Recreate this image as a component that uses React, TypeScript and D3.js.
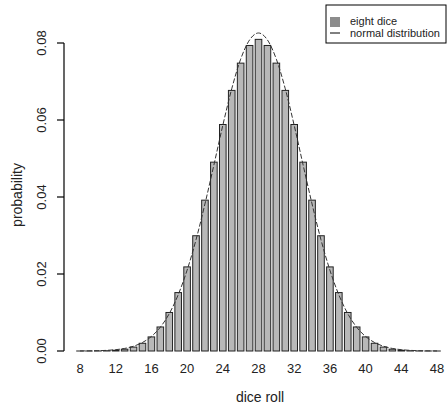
import React, { useMemo } from 'react';
import * as d3 from 'd3';

// dice sums 8..48
const rolls: number[] = d3.range(8, 49);

// probability of each sum (left half up to the peak at 28, mirrored)
const probLeft: number[] = [
  0.0000006, 0.0000048, 0.0000214, 0.0000714, 0.000196, 0.000472, 0.001017,
  0.002005, 0.00366, 0.00624, 0.010007, 0.015175, 0.021843, 0.02994,
  0.03918, 0.04905, 0.058831, 0.067687, 0.074772, 0.079356, 0.080943,
];
const probs: number[] = [...probLeft, ...probLeft.slice(0, -1).reverse()];

// normal curve heights at each sum (same symmetry)
const normLeft: number[] = [
  0.0000156, 0.0000361, 0.0000797, 0.000169, 0.000343, 0.000666, 0.00124,
  0.00221, 0.00377, 0.00618, 0.00969, 0.0146, 0.021, 0.0289, 0.0382,
  0.0483, 0.0586, 0.0681, 0.0758, 0.0808, 0.0826,
];
const normal: number[] = [...normLeft, ...normLeft.slice(0, -1).reverse()];

const xTicks: number[] = [8, 12, 16, 20, 24, 28, 32, 36, 40, 44, 48];
const yTicks: number[] = [0, 0.02, 0.04, 0.06, 0.08];

const W = 448;
const H = 410;
const font = "'Liberation Sans', Arial, sans-serif";

const App = () => {
  const { x, y, curvePath } = useMemo(() => {
    const x = d3.scaleLinear().domain([8, 48]).range([80, 437]);
    const y = d3.scaleLinear().domain([0, 0.08]).range([351, 43]);
    const line = d3.line<number>()
      .x((_, i) => x(rolls[i]))
      .y(d => y(d))
      .curve(d3.curveMonotoneX);
    return { x, y, curvePath: line(normal) };
  }, []);

  const barW = 6.6;

  return (
    <svg width={W} height={H} style={{ position: 'absolute', left: 0, top: 0, background: '#fff', fontFamily: font }}>
      {/* bars */}
      {rolls.map((r, i) => (
        <rect
          key={r}
          x={x(r) - barW / 2}
          y={y(probs[i])}
          width={barW}
          height={y(0) - y(probs[i])}
          fill="#b8b8b8"
          stroke="#222"
          strokeWidth={1}
        />
      ))}

      {/* normal curve */}
      <path d={curvePath ?? ''} fill="none" stroke="#333" strokeWidth={1} strokeDasharray="5,2" />

      {/* y axis */}
      <line x1={64} x2={64} y1={y(0)} y2={y(0.08)} stroke="#000" strokeWidth={1.2} />
      {yTicks.map(t => (
        <g key={t}>
          <line x1={57} x2={64} y1={y(t)} y2={y(t)} stroke="#000" strokeWidth={1.2} />
          <text
            transform={`translate(46, ${y(t)}) rotate(-90)`}
            textAnchor="middle"
            fontSize={13}
            fill="#222"
          >
            {t.toFixed(2)}
          </text>
        </g>
      ))}
      <text transform={`translate(22, 195) rotate(-90)`} textAnchor="middle" fontSize={14} fill="#222">
        probability
      </text>

      {/* x labels */}
      {xTicks.map(t => (
        <text key={t} x={x(t)} y={373} textAnchor="middle" fontSize={13} fill="#222">
          {t}
        </text>
      ))}
      <text x={260} y={402} textAnchor="middle" fontSize={14} fill="#222">
        dice roll
      </text>

      {/* legend */}
      <rect x={326} y={5} width={120} height={38} fill="#fff" stroke="#000" strokeWidth={1} />
      <rect x={330} y={17} width={10} height={10} fill="#8c8c8c" />
      <line x1={330} x2={340} y1={33} y2={33} stroke="#000" strokeWidth={1} />
      <text x={350} y={25} fontSize={11} fill="#222">eight dice</text>
      <text x={350} y={37} fontSize={11} fill="#222">normal distribution</text>
    </svg>
  );
};

export default App;
